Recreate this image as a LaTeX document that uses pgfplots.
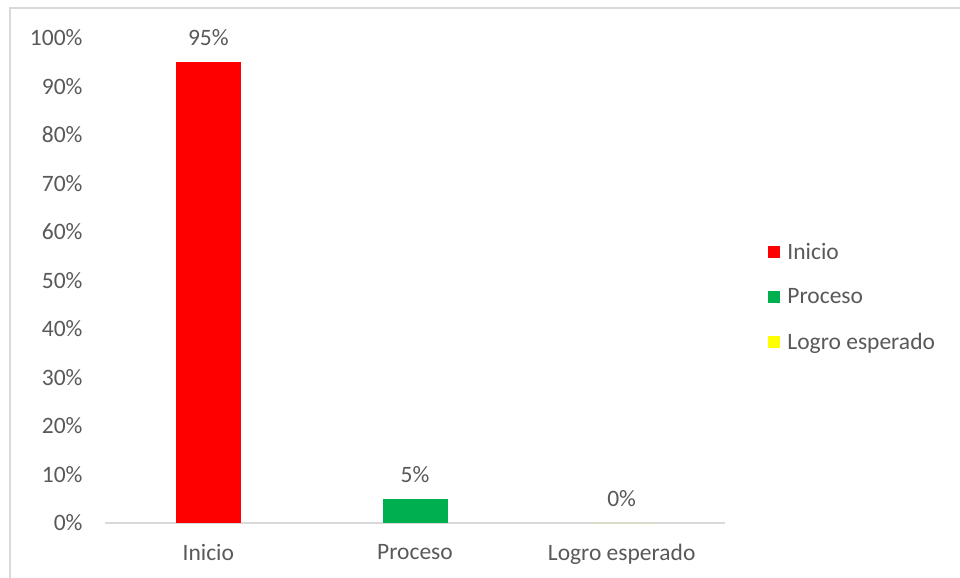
\documentclass[border=0pt]{standalone}
\usepackage{pgfplots}
\pgfplotsset{compat=1.18}
\usepackage{fontspec}
\setmainfont{Carlito}
\definecolor{txt}{HTML}{595959}
\definecolor{axl}{HTML}{D9D9D9}
\definecolor{cred}{HTML}{FF0000}
\definecolor{cgreen}{HTML}{00B050}
\definecolor{cyellow}{HTML}{FFFF00}
\begin{document}
\begin{tikzpicture}
\useasboundingbox (0,0) rectangle (960bp,578bp);
\draw[axl, line width=2bp] (10bp,-20bp) -- (10bp,570bp) -- (990bp,570bp);
\begin{axis}[
  at={(105bp,55bp)}, anchor=south west,
  scale only axis, width=620bp, height=485bp,
  xmin=-0.5, xmax=2.5, ymin=0, ymax=100,
  axis x line*=bottom, axis y line*=left,
  x axis line style={axl, line width=1.5bp, -},
  y axis line style={draw=none},
  major tick length=0,
  xtick={0,1,2}, xticklabels={Inicio,Proceso,Logro esperado},
  ytick={0,10,...,100},
  yticklabel={\pgfmathprintnumber{\tick}\%},
  /pgf/number format/assume math mode=true,
  tick label style={font=\fontsize{23.5bp}{28bp}\selectfont, text=txt},
  yticklabel style={xshift=-19bp},
  xticklabel style={yshift=-18bp},
  ybar, bar width=65bp, bar shift=0pt,
  nodes near coords={\pgfmathprintnumber{\pgfplotspointmeta}\%},
  nodes near coords style={font=\fontsize{23.5bp}{28bp}\selectfont, text=txt, yshift=13bp},
  legend style={draw=none, at={(1.065,0.466)}, anchor=west,
    font=\fontsize{23.5bp}{28bp}\selectfont, text=txt, row sep=24bp,
    /tikz/every odd column/.append style={column sep=5bp}},
  legend cell align=left,
  legend image code/.code={\fill[#1] (0bp,-6bp) rectangle (12bp,6bp);},
  clip=false,
]
\addplot[fill=cred, draw=none] coordinates {(0,95)};
\addplot[fill=cgreen, draw=none] coordinates {(1,5)};
\addplot[fill=cyellow, draw=none] coordinates {(2,0)};
\legend{Inicio,Proceso,Logro esperado}
\end{axis}
\end{tikzpicture}
\end{document}
